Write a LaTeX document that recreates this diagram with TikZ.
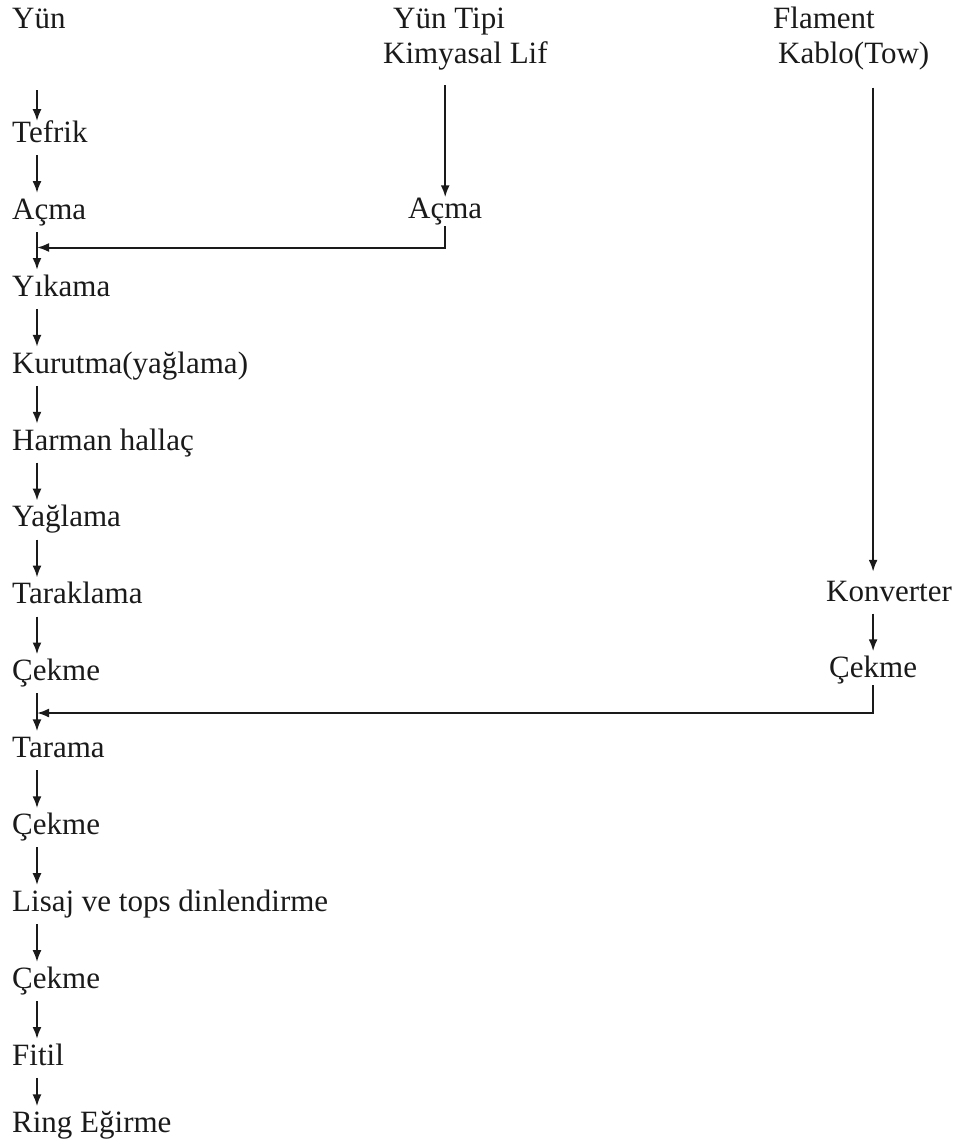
\documentclass[tikz,border=0pt]{standalone}
\usepackage{fontspec}
\setmainfont{Liberation Serif}
\usetikzlibrary{positioning,arrows.meta}
\definecolor{ink}{HTML}{1A1A1A}

\begin{document}
\begin{tikzpicture}[x=1pt, y=-1pt, node distance=48pt,
  stage/.style={inner sep=0pt, text height=21pt, text depth=7.5pt, anchor=base west, text=ink, font=\fontsize{31}{37}\selectfont},
  col/.style={below=of #1.south west, anchor=north west},
  flow/.style={draw=ink, line width=2.2pt, -{Latex[length=12pt,width=9pt]}, shorten <=5pt, shorten >=5pt},
  merge/.style={draw=ink, line width=2pt, -{Latex[length=12pt,width=9pt]}}]
\useasboundingbox (0,0) rectangle (961,1146);

% main wool line
\node[stage] (yun) at (12,28) {Yün};
\node[stage] (tefrik) [below=85.5pt of yun.south west, anchor=north west] {Tefrik};
\node[stage, col=tefrik] (acma) {Açma};
\node[stage, col=acma] (yikama) {Yıkama};
\node[stage, col=yikama] (kurutma) {Kurutma(yağlama)};
\node[stage, col=kurutma] (harman) {Harman hallaç};
\node[stage, col=harman] (yaglama) {Yağlama};
\node[stage, col=yaglama] (taraklama) {Taraklama};
\node[stage, col=taraklama] (cekme1) {Çekme};
\node[stage, col=cekme1] (tarama) {Tarama};
\node[stage, col=tarama] (cekme2) {Çekme};
\node[stage, col=cekme2] (lisaj) {Lisaj ve tops dinlendirme};
\node[stage, col=lisaj] (cekme3) {Çekme};
\node[stage, col=cekme3] (fitil) {Fitil};
\node[stage] (ring) [below=38.5pt of fitil.south west, anchor=north west] {Ring Eğirme};

% chemical fibre
\node[stage] (tipi) at (393,28) {Yün Tipi};
\node[stage] (kimyasal) at (383,63) {Kimyasal Lif};
\node[stage] (acma2) at (408,218.5) {Açma};

% filament tow
\node[stage] (flament) at (773,28) {Flament};
\node[stage] (kablo) at (778,63) {Kablo(Tow)};
\node[stage] (konv) at (826,601) {Konverter};
\node[stage] (kcekme) at (829,677.5) {Çekme};

\coordinate (spine) at (37,0);
\coordinate (join1) at (37,247.5);
\coordinate (join2) at (37,713);

\draw[flow, shorten <=54.5pt, shorten >=0pt] (yun.south -| spine) -- (tefrik.north -| spine);
\draw[flow] (tefrik.south -| spine) -- (acma.north -| spine);
\draw[flow] (acma.south -| spine) -- (yikama.north -| spine);
\draw[flow] (yikama.south -| spine) -- (kurutma.north -| spine);
\draw[flow] (kurutma.south -| spine) -- (harman.north -| spine);
\draw[flow] (harman.south -| spine) -- (yaglama.north -| spine);
\draw[flow] (yaglama.south -| spine) -- (taraklama.north -| spine);
\draw[flow] (taraklama.south -| spine) -- (cekme1.north -| spine);
\draw[flow] (cekme1.south -| spine) -- (tarama.north -| spine);
\draw[flow] (tarama.south -| spine) -- (cekme2.north -| spine);
\draw[flow] (cekme2.south -| spine) -- (lisaj.north -| spine);
\draw[flow] (lisaj.south -| spine) -- (cekme3.north -| spine);
\draw[flow] (cekme3.south -| spine) -- (fitil.north -| spine);
\draw[flow] (fitil.south -| spine) -- (ring.north -| spine);

\draw[flow, shorten <=14.5pt, shorten >=0pt] (kimyasal.south -| acma2.north) -- (acma2.north);
\draw[merge] (acma2.south) |- (join1);

\draw[flow, shorten <=17pt, shorten >=8pt] (kablo.south -| kcekme.north) -- (konv.north -| kcekme.north);
\draw[flow] (konv.south -| kcekme.north) -- (kcekme.north);
\draw[merge] (kcekme.south) |- (join2);
\end{tikzpicture}
\end{document}
